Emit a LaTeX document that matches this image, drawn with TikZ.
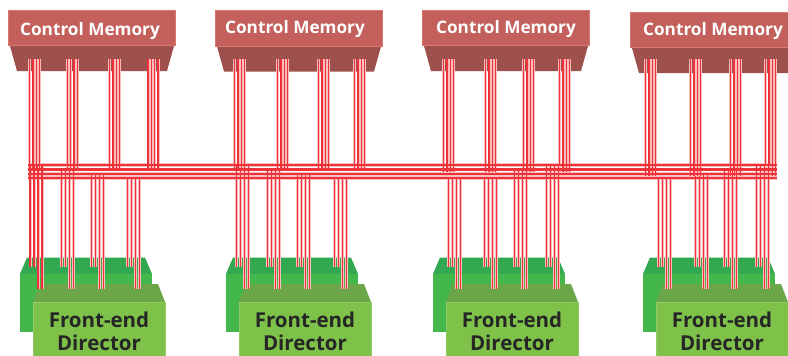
\documentclass[tikz,border=0pt]{standalone}
\usepackage{fontspec}
\setmainfont{Open Sans}

\definecolor{memface}{RGB}{195,96,92}
\definecolor{memedge}{RGB}{221,118,110}
\definecolor{memfoot}{RGB}{158,80,76}
\definecolor{backface}{RGB}{67,182,76}
\definecolor{backtop}{RGB}{50,168,80}
\definecolor{dirface}{RGB}{126,194,74}
\definecolor{dirtop}{RGB}{107,166,72}
\definecolor{wirered}{RGB}{238,50,58}
\definecolor{wirepale}{RGB}{250,190,190}

\begin{document}
\begin{tikzpicture}[x=1pt, y=-1pt]
  % Set the node styles
  \tikzset{
    basenode/.style={rectangle, inner sep=0pt, outer sep=0pt},
    memnode/.style={basenode, fill=memface, draw=memedge, line width=0.8pt, minimum width=167pt, minimum height=35.5pt},
    memlabel/.style={inner sep=0pt, anchor=base, text=white, font=\fontsize{17.2}{20}\selectfont\bfseries},
    backnode/.style={basenode, fill=backface, minimum width=132pt, minimum height=58pt},
    dirnode/.style={basenode, fill=dirface, draw=dirface!85!white, line width=0.6pt, minimum width=132pt, minimum height=56pt},
    dirlabel/.style={inner sep=0pt, align=center, text=black!85, font=\fontsize{20.5}{23}\selectfont\bfseries},
    wire/.style={draw=wirered, line width=1.4pt, preaction={draw=wirepale, line width=3pt}},
    bushalo/.style={draw=wirepale, line width=3.8pt},
    buswire/.style={draw=wirered, line width=2.2pt}
  }

  \useasboundingbox (0,0) rectangle (788,356);
  \clip (0,0) rectangle (788,356);

  % Draw the memory and director blocks
  \foreach \u/\mx/\my/\tx/\ty/\gx in {1/8/10/90/35/20, 2/215/10.5/295/33.5/226, 3/422/10/506/33.5/433, 4/630/12/713/35/643}{
    \fill[memfoot] (\mx+2,\my+36) -- (\mx+166,\my+36) -- (\mx+159,\my+61) -- (\mx+9,\my+61) -- cycle;
    \node[memnode] (mem\u) at (\mx+84,\my+18) {};
    \node[memlabel] (memtext\u) at (\tx,\ty) {Control Memory};
    \fill[backtop] (\gx,274) -- (\gx+132,274) -- (\gx+125,257.5) -- (\gx+7,257.5) -- cycle;
    \node[backnode] (back\u) at (\gx+66,303) {};
    \fill[dirtop] (\gx+13,302) -- (\gx+145,302) -- (\gx+138,284) -- (\gx+20,284) -- cycle;
    \node[dirnode] (dir\u) at (\gx+79,330) {};
    \node[dirlabel] (dirtext\u) at (\gx+79,331.5) {Front-end\\Director};
  }

  % Draw the four bus lines
  \foreach \j/\by in {1/165,2/169.5,3/174,4/178}{
    \coordinate (busl\j) at (28,\by);
    \coordinate (busr\j) at (777,\by);
    \draw[bushalo] (busl\j) -- (busr\j);
  }

  % Connect memories and directors to the bus
  \foreach \u/\g/\upx/\upy/\lox/\loy in {
    1/1/29.7/168/30/165,   1/2/67.4/168/61.7/170,   1/3/109.7/168/91.4/175, 1/4/148/168/127.7/178,
    2/1/234.7/168/236.4/165, 2/2/277.7/168/267.7/170, 2/3/318.7/168/297.7/175, 2/4/354.7/168/334.7/178,
    3/1/443.7/172/448.7/178, 3/2/485.7/172/484.7/178, 3/3/523.7/172/514.7/171, 3/4/559.7/172/546.7/166,
    4/1/645.7/176/658.7/178, 4/2/690.7/176/695.4/175, 4/3/730.7/176/724.7/171, 4/4/765.7/176/756.7/166}{
    \foreach \k in {0,1,2,3}{
      \pgfmathsetmacro{\endy}{\k<2 ? 267 : 289}
      \coordinate (up\u\g\k) at (\upx+\k*3.35,59);
      \coordinate (upend\u\g\k) at (\upx+\k*3.35,\upy);
      \coordinate (lo\u\g\k) at (\lox+\k*4,\loy);
      \coordinate (loend\u\g\k) at (\lox+\k*4,\endy);
      \draw[wire] (up\u\g\k) -- (upend\u\g\k);
      \draw[wire] (lo\u\g\k) -- (loend\u\g\k);
    }
  }

  % Bus stays on top of the wires
  \foreach \j in {1,2,3,4}{
    \draw[buswire] (busl\j) -- (busr\j);
  }
\end{tikzpicture}
\end{document}
